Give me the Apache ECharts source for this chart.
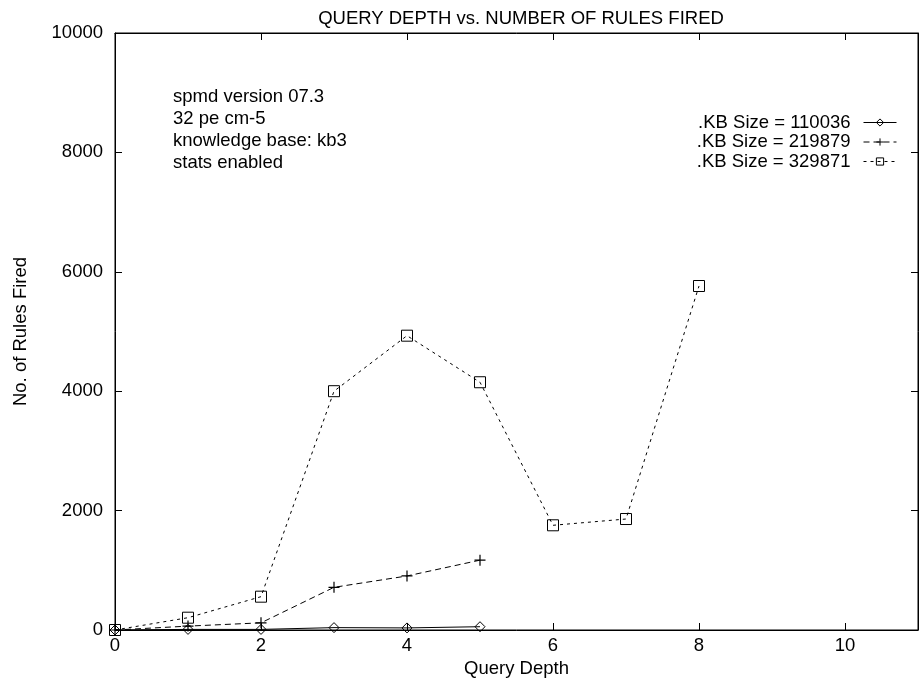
<!DOCTYPE html>
<html>
<head>
<meta charset="utf-8">
<script src="https://cdn.jsdelivr.net/npm/echarts@6/dist/echarts.min.js"></script>
<style>
  html, body { margin: 0; padding: 0; background: #fff; }
  #chart { width: 919px; height: 680px; }
</style>
</head>
<body>
<div id="chart"></div>
<script>
// Query depth (x) against number of rules fired (y), one series per KB size
const depth110036 = [0, 1, 2, 3, 4, 5];
const fired110036 = [0, 10, 10, 40, 35, 55];

const depth219879 = [0, 1, 2, 3, 4, 5];
const fired219879 = [0, 65, 120, 715, 905, 1170];

const depth329871 = [0, 1, 2, 3, 4, 5, 6, 7, 8];
const fired329871 = [0, 206, 558, 4000, 4930, 4150, 1754, 1859, 5762];

const seriesNames = ['.KB Size = 110036', '.KB Size = 219879', '.KB Size = 329871'];
const infoLines = ['spmd version 07.3', '32 pe cm-5', 'knowledge base: kb3', 'stats enabled'];

const FONT = '"Liberation Sans", Arial, Helvetica, sans-serif';
const FS = 18.5;

function pairs(xs, ys) { return xs.map((x, i) => [x, ys[i]]); }
function ticks() { return { show: true, inside: true, length: 7, lineStyle: { color: '#000', width: 1 } }; }
function axisLine() { return { show: true, onZero: false, lineStyle: { color: '#000', width: 1 } }; }

const plusPath = 'path://M0,5 L10,5 M5,0 L5,10';

// hollow markers: transparent fill, thin black outline
const hollowMarker = { color: 'rgba(255,255,255,0)', borderColor: '#000', borderWidth: 1 };

const chart = echarts.init(document.getElementById('chart'), null, { renderer: 'canvas' });

chart.setOption({
  animation: false,
  backgroundColor: '#fff',
  textStyle: { fontFamily: FONT, color: '#000' },
  title: {
    text: 'QUERY DEPTH vs. NUMBER OF RULES FIRED',
    left: 516,
    textAlign: 'center',
    top: 4,
    textStyle: { fontFamily: FONT, fontSize: FS, fontWeight: 'normal', color: '#000' }
  },
  grid: {
    left: 115, right: 1, top: 33, bottom: 50,
    containLabel: false,
    outerBoundsMode: 'none',
    show: true, borderColor: '#000', borderWidth: 1, backgroundColor: 'transparent'
  },
  legend: {
    data: seriesNames,
    orient: 'vertical',
    right: 22,
    top: 113,
    padding: 0,
    align: 'right',
    itemWidth: 33,
    itemHeight: 9,
    itemGap: 0.5,
    lineStyle: { width: 1 },
    itemStyle: { borderWidth: 1 },
    textStyle: { fontFamily: FONT, fontSize: FS, color: '#000', lineHeight: 17, padding: [0, 8, 0, 0] },
    selectedMode: false
  },
  graphic: [{
    type: 'text',
    left: 173,
    top: 86,
    style: {
      text: infoLines.join('\n'),
      font: FS + 'px ' + FONT,
      lineHeight: 22,
      fill: '#000'
    }
  }],
  xAxis: [{
    type: 'value',
    min: 0, max: 11, interval: 2,
    name: 'Query Depth',
    nameLocation: 'middle',
    nameGap: 28,
    nameTextStyle: { fontFamily: FONT, fontSize: FS, color: '#000' },
    axisLine: axisLine(),
    axisTick: ticks(),
    axisLabel: { fontFamily: FONT, fontSize: FS, color: '#000', margin: 6, showMaxLabel: false },
    splitLine: { show: false }
  }, {
    type: 'value',
    position: 'top',
    min: 0, max: 11, interval: 2,
    axisLine: axisLine(),
    axisTick: ticks(),
    axisLabel: { show: false },
    splitLine: { show: false }
  }],
  yAxis: [{
    type: 'value',
    min: 0, max: 10000, interval: 2000,
    name: 'No. of Rules Fired',
    nameLocation: 'middle',
    nameGap: 85,
    nameRotate: 90,
    nameTextStyle: { fontFamily: FONT, fontSize: FS, color: '#000' },
    axisLine: axisLine(),
    axisTick: ticks(),
    axisLabel: { fontFamily: FONT, fontSize: FS, color: '#000', margin: 12, formatter: v => String(v) },
    splitLine: { show: false }
  }, {
    type: 'value',
    position: 'right',
    min: 0, max: 10000, interval: 2000,
    axisLine: axisLine(),
    axisTick: ticks(),
    axisLabel: { show: false },
    splitLine: { show: false }
  }],
  series: [{
    name: seriesNames[0],
    type: 'line',
    data: pairs(depth110036, fired110036),
    symbol: 'diamond',
    symbolSize: 10,
    showAllSymbol: true,
    lineStyle: { color: '#000', width: 1, type: 'solid' },
    itemStyle: hollowMarker,
    z: 3
  }, {
    name: seriesNames[1],
    type: 'line',
    data: pairs(depth219879, fired219879),
    symbol: plusPath,
    symbolSize: 11,
    showAllSymbol: true,
    lineStyle: { color: '#000', width: 1, type: [6, 4] },
    itemStyle: { color: 'none', borderColor: '#000', borderWidth: 1.2 },
    z: 3
  }, {
    name: seriesNames[2],
    type: 'line',
    data: pairs(depth329871, fired329871),
    symbol: 'rect',
    symbolSize: 11,
    showAllSymbol: true,
    lineStyle: { color: '#000', width: 1, type: [3, 4] },
    itemStyle: hollowMarker,
    z: 3
  }]
});
</script>
</body>
</html>
